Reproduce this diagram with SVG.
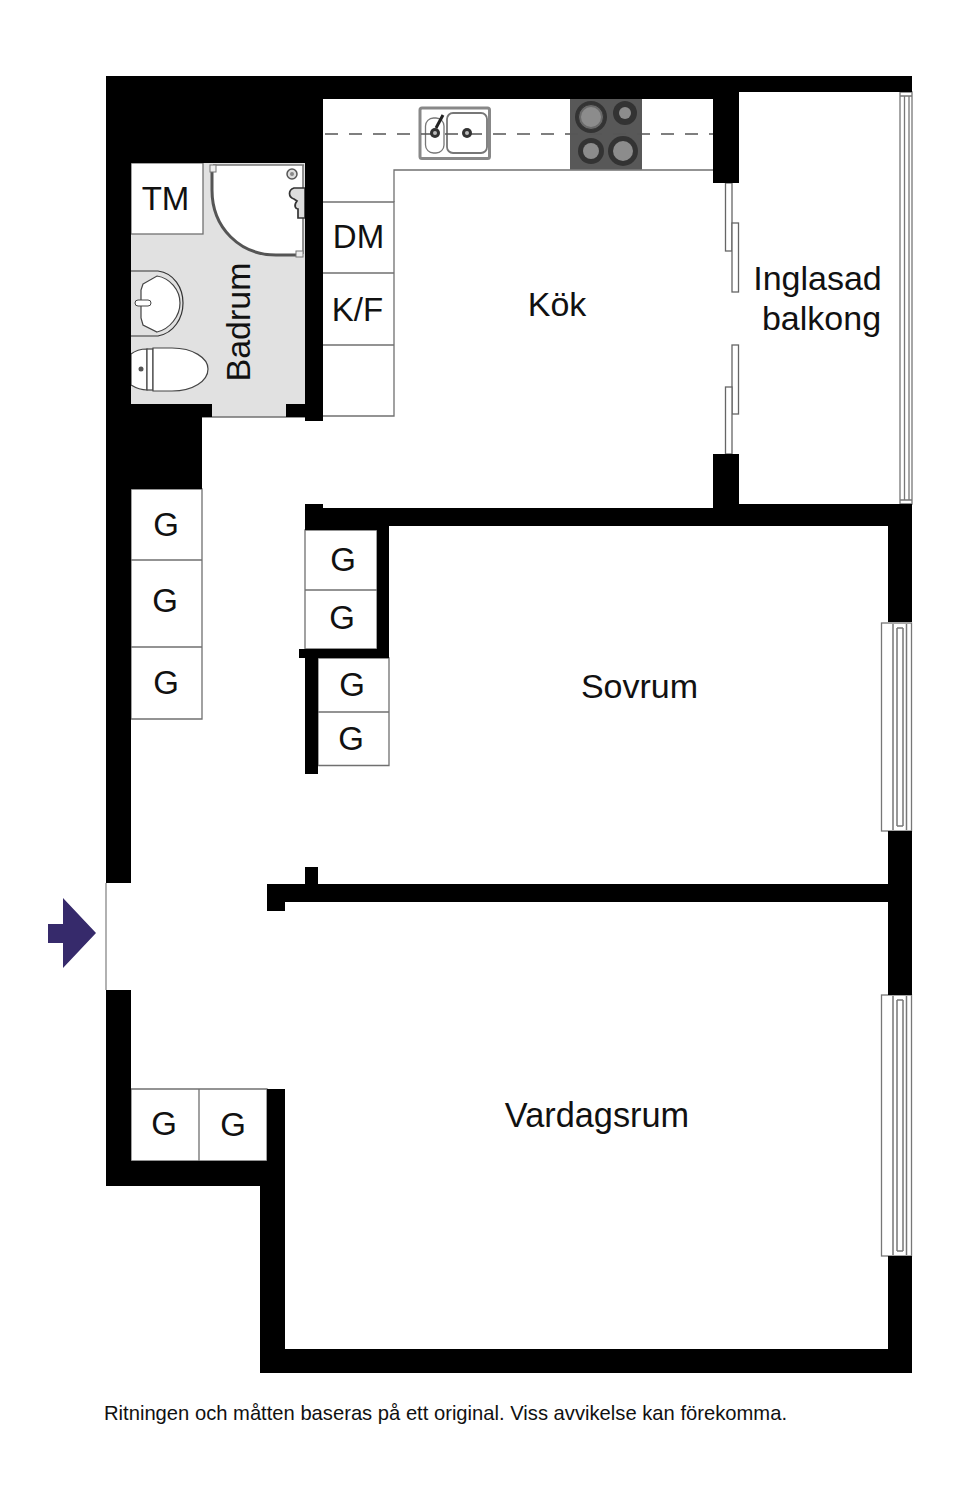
<svg xmlns="http://www.w3.org/2000/svg" width="960" height="1499" viewBox="0 0 960 1499">
<style>
text{font-family:"Liberation Sans",Arial,sans-serif;font-size:33px;fill:#111;text-anchor:middle}
.room{font-size:34px}
.w{fill:#000}
.b{fill:#fff;stroke:#707070;stroke-width:1.3}
.l{fill:none;stroke:#707070;stroke-width:1.3}
.d{fill:none;stroke:#333;stroke-width:1.2}
</style>
<rect width="960" height="1499" fill="#fff"/>
<g id="floors">
<rect x="131" y="163" width="174" height="254" fill="#e1e1e1"/>
<path class="l" d="M202 417H305"/>
</g>
<g id="fixed-fittings">
<rect class="b" x="131" y="163" width="72" height="71"/>
<path class="b" d="M323 202H394V416H323M323 273H394M323 345H394"/>
<path class="l" d="M394 202V170H713"/>
<path class="b" d="M131 489H202V719H131ZM131 560H202M131 647H202"/>
<path class="b" d="M305 530H377V649H305ZM305 590H377"/>
<path class="b" d="M318 658H389V765.500H318ZM318 712H389"/>
<path class="b" d="M131 1089H267V1161H131ZM199 1089V1161"/>
</g>
<g id="shower">
<path d="M213 165H303V254H272C238 254 213 226 213 192Z" fill="#fff"/>
<path d="M212 166V190C212 228 240 255 276 255H302" fill="none" stroke="#555" stroke-width="3"/>
<path d="M213 165H304M303 165V254" fill="none" stroke="#777" stroke-width="1.6"/>
<rect x="210" y="165" width="6" height="7" fill="#eee" stroke="#777"/>
<rect x="296" y="251" width="7" height="6" fill="#eee" stroke="#777"/>
<circle cx="292" cy="174" r="5" fill="#ddd" stroke="#555" stroke-width="1.500"/>
<circle cx="292" cy="174" r="2" fill="#888"/>
<path d="M305 188H294C288 190 288 197 294 199L297 201C293 206 296 209 298 209V218H305Z" fill="#ddd" stroke="#333" stroke-width="1.700"/>
</g>
<g id="basin">
<path class="d" d="M131 271H158C174 273 183 288 183 303C183 318 174 333 158 336H131" fill="#e1e1e1"/>
<path d="M143 284L157 276C170 278 180 290 180 303C180 316 170 329 157 332L143 325L141 318V290Z" fill="#fff" stroke="#444" stroke-width="1.200"/>
<rect x="135" y="300" width="16" height="6" rx="3" fill="#fff" stroke="#444"/>
</g>
<g id="toilet">
<path d="M131 354C136 350 141 349 147 349V390C141 390 136 388 131 385Z" fill="#fff" stroke="#444" stroke-width="1.200"/>
<rect x="147" y="349" width="6" height="41" fill="#fff" stroke="#444" stroke-width="1.200"/>
<path d="M153 348H172C193 348 208 358 208 369C208 381 193 391 172 391H153Z" fill="#fff" stroke="#444" stroke-width="1.200"/>
<circle cx="141" cy="369" r="2.500" fill="#555"/>
</g>
<g id="sink">
<rect x="420" y="108" width="69.500" height="50.500" rx="2" fill="#fff" stroke="#888" stroke-width="3"/>
<rect x="425.500" y="118" width="18.500" height="35" rx="8" fill="#fff" stroke="#777" stroke-width="1.300"/>
<rect x="447" y="113" width="40" height="40" rx="6" fill="#fff" stroke="#777" stroke-width="1.800"/>
</g>
<g id="hob">
<rect x="570" y="99" width="72" height="70.500" fill="#585858"/>
<circle cx="591" cy="117" r="16" fill="#333"/><circle cx="591" cy="117" r="12.500" fill="#6a6a6a" stroke="#333"/><circle cx="591" cy="117" r="10" fill="#8c8c8c"/>
<circle cx="625" cy="113" r="12" fill="#333"/><circle cx="625" cy="113" r="6" fill="#8c8c8c"/>
<circle cx="591" cy="151" r="13" fill="#333"/><circle cx="591" cy="151" r="8" fill="#8c8c8c"/>
<circle cx="623" cy="151" r="15" fill="#333"/><circle cx="623" cy="151" r="10" fill="#8c8c8c"/>
</g>
<path id="kitchen-dashes" d="M325 134H713" fill="none" stroke="#555" stroke-width="1.300" stroke-dasharray="13 11"/>
<g id="sink-drains">
<circle cx="435" cy="133" r="5" fill="#333"/><circle cx="435" cy="133" r="2" fill="#bbb"/>
<circle cx="467" cy="133" r="5" fill="#333"/><circle cx="467" cy="133" r="2" fill="#bbb"/>
<path d="M436 128L443 115" stroke="#222" stroke-width="3"/>
</g>
<g id="balcony-doors" fill="#fff" stroke="#666" stroke-width="1.300">
<rect x="725.500" y="183" width="6.500" height="68"/>
<rect x="732" y="223" width="6.500" height="69"/>
<rect x="732" y="345" width="6.500" height="69"/>
<rect x="725.500" y="387" width="6.500" height="67"/>
</g>
<g id="windows" fill="#fff" stroke="#777" stroke-width="1.300">
<path d="M900 92H912V504H900ZM904.500 96V500M909 96V500M900 96H912M900 500H912"/>
<g id="window-sovrum">
<rect x="881.500" y="623" width="30" height="208"/>
<path d="M893 624V830M897 628V826M903 628V826M906.500 624V830M897 628H903M897 826H903" stroke-width="1.500"/>
</g>
<g id="window-vardagsrum">
<rect x="881.500" y="995" width="30" height="261"/>
<path d="M893 996V1255M897 1000V1251M903 1000V1251M906.500 996V1255M897 1000H903M897 1251H903" stroke-width="1.500"/>
</g>
<path d="M106 883V990" fill="none" stroke="#888"/>
</g>
<g id="walls" class="w">
<path d="M106 76H912V92H739V183H713V99H323V421H305V417H286V404H305V163H131V404H212V417H202V489H131V883H106Z"/>
<path d="M713 454H739V504H912V622H888V526H389V658H318V774H305V658H299V649H377V530H305V504H323V508H713Z"/>
<path d="M888 831H912V995H888V902H285V911H267V884H305V867H318V884H888Z"/>
<path d="M106 990H131V1161H267V1089H285V1349H888V1256H912V1373H260V1186H106Z"/>
</g>
<path id="entrance-arrow" d="M48 924H63V898L96 933L63 968V943H48Z" fill="#362a6b"/>
<g id="labels">
<text x="165.500" y="210">TM</text>
<text x="358.500" y="248">DM</text>
<text x="357.500" y="321">K/F</text>
<text class="room" x="557" y="316">Kök</text>
<text class="room" x="817.500" y="290">Inglasad</text>
<text class="room" x="821.500" y="330">balkong</text>
<text class="room" transform="translate(250 322) rotate(-90)">Badrum</text>
<text x="166" y="536">G</text>
<text x="165" y="612">G</text>
<text x="166" y="694">G</text>
<text x="343" y="571">G</text>
<text x="342" y="629">G</text>
<text x="352" y="696">G</text>
<text x="351" y="750">G</text>
<text class="room" x="639.500" y="698">Sovrum</text>
<text class="room" x="597" y="1127" style="font-size:34.300px">Vardagsrum</text>
<text x="164" y="1135">G</text>
<text x="233" y="1136">G</text>
<text x="104" y="1419.500" style="text-anchor:start;font-size:20.200px">Ritningen och måtten baseras på ett original. Viss avvikelse kan förekomma.</text>
</g>
</svg>
